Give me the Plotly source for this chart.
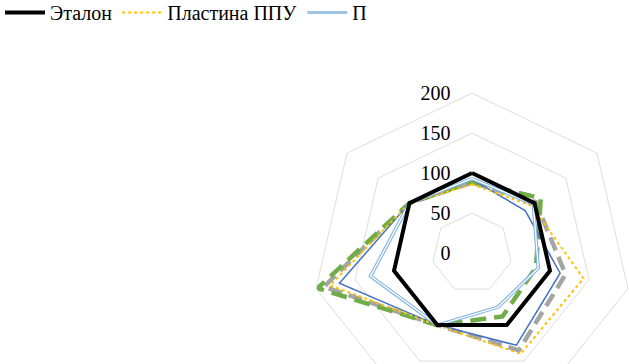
import plotly.graph_objects as go

W, H = 640, 420
SERIF = "Times New Roman, Liberation Serif, DejaVu Serif, serif"

categories = ["Плотность, %", "Сопротивление", "Показатель 3", "Показатель 4",
              "Показатель 5", "Показатель 6", "Органолептический показатель"]
radial_ticks = [0, 50, 100, 150, 200]

etalon = [100, 100, 100, 100, 100, 100, 100]
plastina_ppu = [86, 95, 143, 140, 100, 182, 100]
series3 = [93, 98, 85, 75, 100, 130, 100]
series4 = [92, 85, 113, 128, 100, 170, 100]
series5 = [88, 102, 120, 135, 100, 190, 100]
series6 = [89, 110, 82, 88, 100, 198, 100]

names = ["Эталон", "Пластина ППУ", "П", "Серия 4", "Серия 5", "Серия 6"]

def closed(v):
    return list(v) + [v[0]]

theta = closed(categories)

fig = go.Figure()

def add(vals, name, color, width, dash="solid", show=True):
    fig.add_trace(go.Scatterpolar(r=closed(vals), theta=theta, mode="lines", name=name,
                                  line=dict(color=color, width=width, dash=dash),
                                  showlegend=show))

add(series5, names[4], "#A5A5A5", 4.5, "14px,7px", False)
add(series6, names[5], "#70AD47", 4.5, "16px,8px", False)
add(series4, names[3], "#4472C4", 1.5, "solid", False)
add(plastina_ppu, names[1], "#FFC000", 2, "dot", False)
add(series3, names[2], "#7FB2E0", 3.5, "solid", False)
fig.add_trace(go.Scatterpolar(r=closed(series3), theta=theta, mode="lines", showlegend=False,
                              line=dict(color="white", width=1.3), hoverinfo="skip"))
add(etalon, names[0], "#000000", 4, "solid", False)

# legend entries (in original order)
for vals, name, color, width, dash in [
    (etalon, names[0], "#000000", 4, "solid"),
    (plastina_ppu, names[1], "#FFC000", 2, "dot"),
    (series3, names[2], "#9DC3E6", 3, "solid"),
]:
    fig.add_trace(go.Scatterpolar(r=[None], theta=[categories[0]], mode="lines", name=name,
                                  line=dict(color=color, width=width, dash=dash)))

fig.update_layout(
    width=W, height=H,
    margin=dict(l=0, r=0, t=0, b=0, autoexpand=False),
    paper_bgcolor="white",
    font=dict(family=SERIF, size=20, color="#000000"),
    showlegend=True,
    legend=dict(orientation="h", x=0, y=1 + 7 / H, xanchor="left", yanchor="top",
                font=dict(family=SERIF, size=20), itemwidth=40, tracegroupgap=0,
                bgcolor="rgba(0,0,0,0)"),
    polar=dict(
        domain=dict(x=[312 / W, 632 / W], y=[1 - 413 / H, 1 - 93 / H]),
        bgcolor="white",
        gridshape="linear",
        radialaxis=dict(range=[0, 200], tickvals=radial_ticks, angle=90, tickangle=90,
                        side="counterclockwise", showline=False, gridcolor="#DDDDDD",
                        gridwidth=1, ticks="outside", ticklen=14, tickcolor="rgba(0,0,0,0)",
                        tickfont=dict(family=SERIF, size=20, color="#000000")),
        angularaxis=dict(direction="clockwise", rotation=90, showticklabels=False,
                         ticks="", showgrid=False, showline=True, linecolor="#DDDDDD",
                         linewidth=1),
    ),
)

fig.write_html("out.html", config={"displayModeBar": False},
               post_script="document.body.style.margin='0';document.body.style.overflow='hidden';")
